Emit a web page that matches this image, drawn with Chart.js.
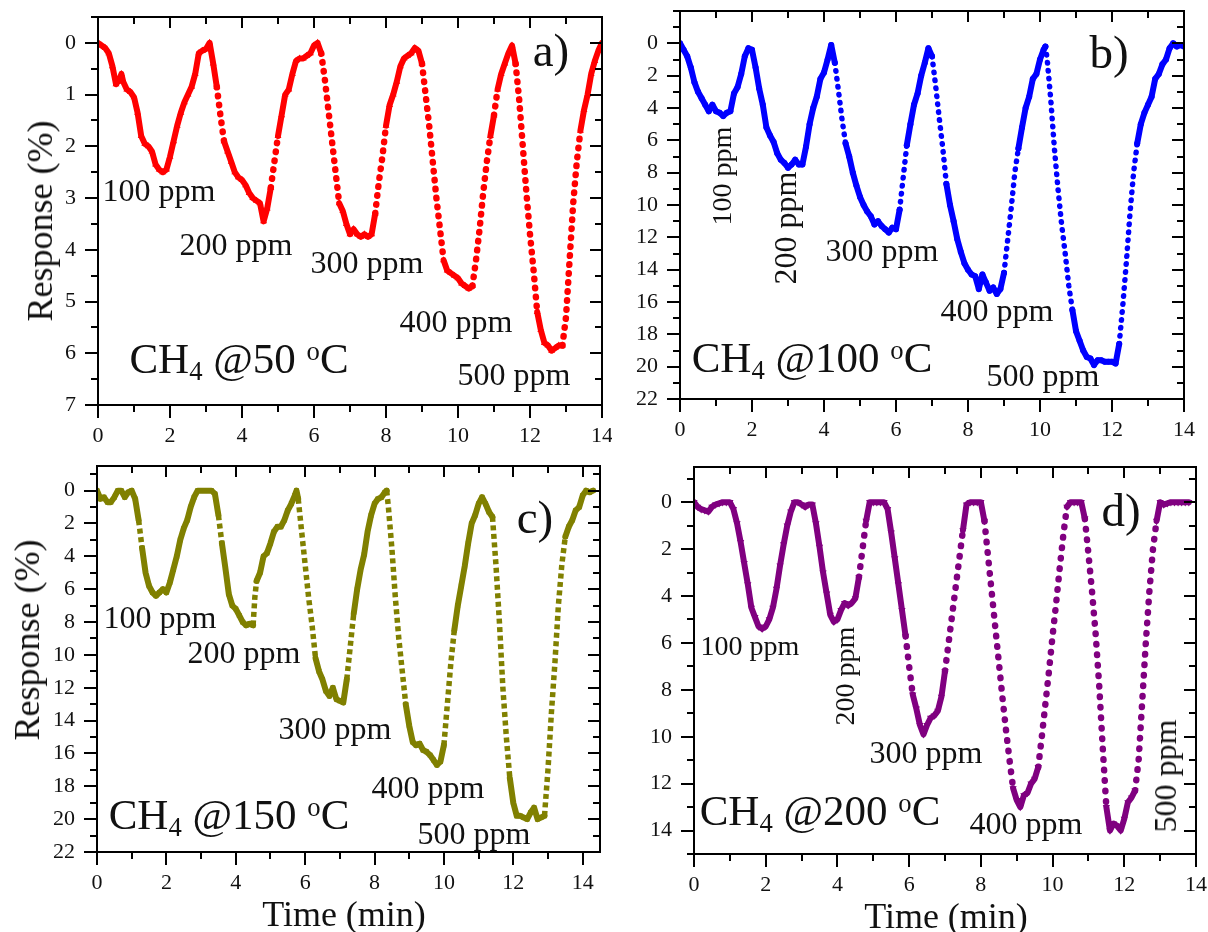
<!DOCTYPE html>
<html>
<head>
<meta charset="utf-8">
<script src="https://cdn.jsdelivr.net/npm/chart.js@4.4.1/dist/chart.umd.min.js"></script>
<style>
  html, body { margin: 0; padding: 0; background: #fff; }
  #fig { position: relative; width: 1208px; height: 932px; overflow: hidden;
         font-family: 'Liberation Serif', 'Times New Roman', serif; color: #111; }
  #fig canvas { position: absolute; }
  .txt { position: absolute; white-space: nowrap; line-height: 1; transform: translate(-50%, -50%); }
  .txt.rot { transform: translate(-50%, -50%) rotate(-90deg); }
  .txt sub, .txt sup { font-size: .62em; position: relative; vertical-align: baseline; }
  .txt sub { top: .28em; }
  .txt sup { top: -.5em; }
</style>
</head>
<body>
<div id="fig">
  <canvas id="panelA" width="612" height="458" style="left:0;top:0"></canvas>
  <canvas id="panelB" width="596" height="458" style="left:612px;top:0"></canvas>
  <canvas id="panelC" width="612" height="474" style="left:0;top:458px"></canvas>
  <canvas id="panelD" width="596" height="474" style="left:612px;top:458px"></canvas>
</div>
<script>
'use strict';

/* Response (%) vs time (min): [t, r] */
const respA = [
  [0,0],[0.1,0.05],[0.2,0.1],[0.3,0.2],[0.4,0.45],[0.5,0.8],[0.6,0.7],[0.65,0.6],[0.7,0.75],[0.8,0.9],
  [0.9,0.95],[1.0,1.05],[1.1,1.35],[1.2,1.8],[1.3,1.95],[1.4,2.0],[1.5,2.1],[1.6,2.35],[1.7,2.45],[1.8,2.5],
  [1.9,2.45],[2.0,2.2],[2.1,1.9],[2.2,1.6],[2.3,1.35],[2.4,1.15],[2.5,1.0],[2.6,0.85],[2.7,0.6],[2.8,0.2],
  [2.9,0.15],[3.0,0.12],[3.1,0.0],[3.2,0.4],[3.3,0.85],[3.4,1.4],[3.5,1.9],[3.6,2.1],[3.7,2.3],[3.8,2.5],
  [3.9,2.6],[4.0,2.65],[4.1,2.75],[4.2,2.9],[4.3,3.0],[4.4,3.05],[4.5,3.1],[4.6,3.45],[4.7,3.2],[4.8,2.8],
  [4.9,2.3],[5.0,1.8],[5.1,1.4],[5.2,1.0],[5.3,0.9],[5.4,0.6],[5.5,0.35],[5.6,0.3],[5.7,0.3],[5.8,0.25],
  [5.9,0.2],[6.0,0.05],[6.1,0.0],[6.2,0.2],[6.3,0.7],[6.4,1.3],[6.5,1.9],[6.6,2.5],[6.7,3.1],[6.8,3.25],
  [6.9,3.5],[7.0,3.7],[7.1,3.6],[7.2,3.7],[7.3,3.75],[7.4,3.7],[7.5,3.75],[7.6,3.7],[7.7,3.3],[7.8,2.7],
  [7.9,2.2],[8.0,1.6],[8.1,1.2],[8.2,1.0],[8.3,0.75],[8.4,0.45],[8.5,0.3],[8.6,0.25],[8.7,0.2],[8.8,0.1],
  [8.9,0.15],[9.0,0.4],[9.1,1.0],[9.2,1.6],[9.3,2.3],[9.4,3.0],[9.5,3.6],[9.6,4.2],[9.7,4.4],[9.8,4.45],
  [9.9,4.5],[10.0,4.55],[10.1,4.65],[10.2,4.7],[10.3,4.75],[10.4,4.7],[10.5,4.2],[10.6,3.6],[10.7,2.9],[10.8,2.3],
  [10.9,1.8],[11.0,1.4],[11.1,0.9],[11.2,0.6],[11.3,0.4],[11.4,0.2],[11.5,0.05],[11.6,0.4],[11.7,1.1],[11.8,2.0],
  [11.9,2.9],[12.0,3.7],[12.1,4.4],[12.2,5.2],[12.3,5.55],[12.4,5.8],[12.5,5.85],[12.6,5.95],[12.7,5.9],[12.8,5.85],
  [12.9,5.85],[13.0,5.3],[13.1,4.2],[13.2,3.1],[13.3,2.3],[13.4,1.7],[13.5,1.3],[13.6,1.0],[13.7,0.6],[13.8,0.35],
  [13.9,0.15],[14.0,0.0]
];
const respB = [
  [0,0],[0.1,0.4],[0.2,0.8],[0.3,1.5],[0.4,2.4],[0.5,3.0],[0.6,3.4],[0.7,3.8],[0.8,4.2],[0.9,3.8],
  [1.0,4.2],[1.1,4.3],[1.2,4.5],[1.3,4.3],[1.4,4.2],[1.5,3.1],[1.6,2.7],[1.7,1.9],[1.8,0.8],[1.9,0.3],
  [2.0,0.4],[2.1,1.5],[2.2,2.8],[2.3,3.8],[2.4,5.2],[2.5,5.7],[2.6,6.1],[2.7,6.8],[2.8,7.2],[2.9,7.4],
  [3.0,7.7],[3.1,7.5],[3.2,7.2],[3.3,7.5],[3.4,7.5],[3.5,6.4],[3.6,5.0],[3.7,4.0],[3.8,3.3],[3.9,2.2],
  [4.0,1.8],[4.1,1.0],[4.2,0.1],[4.3,1.2],[4.4,2.9],[4.5,4.7],[4.6,6.2],[4.7,7.0],[4.8,8.0],[4.9,8.8],
  [5.0,9.5],[5.1,10.0],[5.2,10.4],[5.3,10.7],[5.4,11.2],[5.5,11.0],[5.6,11.3],[5.7,11.5],[5.8,11.7],[5.9,11.4],
  [6.0,11.5],[6.1,10.3],[6.2,8.3],[6.3,6.3],[6.4,5.0],[6.5,3.8],[6.6,3.1],[6.7,2.0],[6.8,1.2],[6.9,0.3],
  [7.0,0.8],[7.1,2.6],[7.2,4.6],[7.3,6.5],[7.4,8.7],[7.5,10.0],[7.6,11.0],[7.7,12.1],[7.8,12.9],[7.9,13.6],
  [8.0,14.0],[8.1,14.3],[8.2,14.4],[8.3,15.2],[8.4,14.3],[8.5,14.8],[8.6,15.3],[8.7,15.1],[8.8,15.5],[8.9,15.2],
  [9.0,14.2],[9.1,12.2],[9.2,10.2],[9.3,8.0],[9.4,6.5],[9.5,5.2],[9.6,4.0],[9.7,3.3],[9.8,2.2],[9.9,1.9],
  [10.0,1.0],[10.1,0.4],[10.15,0.2],[10.2,1.0],[10.3,3.5],[10.4,6.5],[10.5,9.0],[10.6,11.2],[10.7,13.0],[10.8,15.0],
  [10.9,16.5],[11.0,17.8],[11.1,18.4],[11.2,19.0],[11.3,19.4],[11.4,19.5],[11.5,19.9],[11.6,19.6],[11.7,19.6],[11.8,19.7],
  [11.9,19.7],[12.0,19.7],[12.1,19.8],[12.2,18.6],[12.3,16.2],[12.4,13.5],[12.5,10.5],[12.6,8.0],[12.7,6.2],[12.8,5.0],
  [12.9,4.3],[13.0,3.8],[13.1,3.3],[13.2,2.2],[13.3,1.9],[13.4,1.3],[13.5,1.0],[13.6,0.3],[13.7,0.0],[13.8,0.2],
  [13.9,0.1],[14.0,0.2]
];
const respC = [
  [0,0.0],[0.1,0.5],[0.2,0.4],[0.3,0.7],[0.4,0.7],[0.5,0.4],[0.6,0.0],[0.7,0.0],[0.8,0.4],[0.9,0.1],
  [1.0,0.0],[1.1,0.5],[1.2,1.8],[1.3,3.5],[1.4,5.0],[1.5,5.8],[1.6,6.2],[1.7,6.4],[1.8,6.2],[1.9,6.0],
  [2.0,6.2],[2.1,5.6],[2.2,4.8],[2.3,4.0],[2.4,3.0],[2.5,2.3],[2.6,1.8],[2.7,1.0],[2.8,0.4],[2.9,0.0],
  [3.0,0.0],[3.1,0.0],[3.2,0.0],[3.3,0.0],[3.4,0.2],[3.5,1.5],[3.6,3.2],[3.7,4.7],[3.8,6.3],[3.9,7.0],
  [4.0,7.2],[4.1,7.6],[4.2,8.0],[4.3,8.2],[4.4,8.1],[4.5,8.2],[4.55,6.5],[4.6,5.5],[4.7,5.0],[4.8,4.0],
  [4.9,3.8],[5.0,3.2],[5.1,2.5],[5.2,2.2],[5.3,2.2],[5.4,1.8],[5.5,1.2],[5.6,0.8],[5.7,0.3],[5.75,0.0],
  [5.8,0.5],[5.9,2.5],[6.0,4.5],[6.1,6.5],[6.2,8.2],[6.3,10.2],[6.4,11.0],[6.5,11.5],[6.6,12.2],[6.7,12.5],
  [6.8,12.0],[6.9,12.7],[7.0,12.8],[7.1,12.9],[7.2,11.5],[7.3,9.5],[7.4,7.5],[7.5,6.0],[7.6,4.8],[7.7,3.9],
  [7.8,2.5],[7.9,1.5],[8.0,0.8],[8.1,0.5],[8.2,0.4],[8.3,0.1],[8.35,0.0],[8.4,1.0],[8.5,3.5],[8.6,6.5],
  [8.7,9.0],[8.8,11.0],[8.9,13.0],[9.0,14.3],[9.1,15.3],[9.2,15.5],[9.3,15.4],[9.4,15.8],[9.5,15.9],[9.6,16.1],
  [9.7,16.4],[9.8,16.7],[9.9,16.5],[10.0,15.5],[10.1,13.0],[10.2,10.5],[10.3,8.5],[10.4,7.0],[10.5,5.8],[10.6,4.6],
  [10.7,3.2],[10.8,2.0],[10.9,1.5],[11.0,0.8],[11.1,0.4],[11.2,0.8],[11.3,1.3],[11.4,1.6],[11.5,4.5],[11.6,8.0],
  [11.7,12.0],[11.8,15.0],[11.9,17.5],[12.0,19.0],[12.1,19.8],[12.2,19.8],[12.3,19.9],[12.4,20.0],[12.5,19.6],[12.6,19.3],
  [12.7,20.0],[12.8,19.9],[12.9,19.8],[13.0,17.0],[13.1,13.5],[13.2,10.5],[13.3,7.0],[13.4,4.5],[13.5,2.8],[13.6,2.2],
  [13.7,1.8],[13.8,1.2],[13.9,1.0],[14.0,0.3],[14.1,0.0],[14.2,0.1],[14.3,0.0]
];
const respD = [
  [0,0.0],[0.1,0.2],[0.2,0.3],[0.3,0.35],[0.4,0.4],[0.5,0.2],[0.6,0.1],[0.7,0.05],[0.8,0.0],[0.9,0.0],
  [1.0,0.0],[1.1,0.3],[1.2,0.9],[1.3,1.7],[1.4,2.6],[1.5,3.5],[1.6,4.5],[1.7,4.9],[1.8,5.3],[1.9,5.4],
  [2.0,5.3],[2.1,5.0],[2.2,4.5],[2.3,3.7],[2.4,2.7],[2.5,1.8],[2.6,1.0],[2.7,0.4],[2.8,0.0],[2.9,0.0],
  [3.0,0.1],[3.1,0.2],[3.2,0.1],[3.3,0.1],[3.4,0.9],[3.5,1.9],[3.6,3.0],[3.7,3.9],[3.8,4.8],[3.9,5.1],
  [4.0,5.0],[4.1,4.6],[4.2,4.3],[4.3,4.4],[4.4,4.3],[4.5,4.1],[4.6,3.2],[4.7,2.0],[4.8,0.8],[4.9,0.0],
  [5.0,0.0],[5.1,0.0],[5.2,0.0],[5.3,0.0],[5.4,0.3],[5.5,1.3],[5.6,2.4],[5.7,3.5],[5.8,4.6],[5.9,5.7],
  [6.0,7.0],[6.1,8.2],[6.2,8.8],[6.3,9.5],[6.4,9.9],[6.5,9.5],[6.6,9.2],[6.7,9.1],[6.8,8.9],[6.9,8.3],
  [7.0,7.2],[7.1,6.0],[7.2,4.8],[7.3,3.6],[7.4,2.4],[7.5,1.2],[7.6,0.1],[7.7,0.0],[7.8,0.0],[7.9,0.0],
  [8.0,0.0],[8.1,0.8],[8.2,2.3],[8.3,3.8],[8.4,5.3],[8.5,6.8],[8.6,8.3],[8.7,9.7],[8.8,11.0],[8.9,12.2],
  [9.0,12.7],[9.1,13.0],[9.2,12.5],[9.3,12.4],[9.4,12.0],[9.5,11.8],[9.6,11.3],[9.7,10.0],[9.8,8.6],[9.9,7.2],
  [10.0,5.7],[10.1,4.3],[10.2,2.8],[10.3,1.4],[10.4,0.2],[10.5,0.0],[10.6,0.0],[10.7,0.0],[10.8,0.0],[10.9,0.7],
  [11.0,2.2],[11.1,3.8],[11.2,5.6],[11.3,7.8],[11.4,10.5],[11.5,13.0],[11.6,14.0],[11.7,13.7],[11.8,13.8],[11.9,14.0],
  [12.0,13.5],[12.1,12.8],[12.2,12.6],[12.3,12.3],[12.4,11.0],[12.5,8.5],[12.6,6.0],[12.7,3.8],[12.8,2.0],[12.9,0.8],
  [13.0,0.0],[13.1,0.1],[13.2,0.05],[13.3,0.0],[13.4,0.0],[13.5,0.0],[13.6,0.0],[13.7,0.0],[13.8,0.0]
];

/* Tick values */
const xTicks  = [0, 2, 4, 6, 8, 10, 12, 14];
const yTicksA = [0, 1, 2, 3, 4, 5, 6, 7];
const yTicksB = [0, 2, 4, 6, 8, 10, 12, 14, 16, 18, 20, 22];
const yTicksC = [0, 2, 4, 6, 8, 10, 12, 14, 16, 18, 20, 22];
const yTicksD = [0, 2, 4, 6, 8, 10, 12, 14];

/* Texts */
const concLabels = ['100 ppm', '200 ppm', '300 ppm', '400 ppm', '500 ppm'];
const temps      = ['50', '100', '150', '200'];
const tags       = ['a)', 'b)', 'c)', 'd)'];
const xTitle     = 'Time (min)';
const yTitle     = 'Response (%)';

const SERIF = "'Liberation Serif', 'Times New Roman', serif";

/* Panel setup; "steep*" styles where markers spread apart on fast transients */
const PANELS = [
  { id: 'panelA', data: respA, color: '#ff0000', style: 'triangle', rot: 0, r: 4,
    steepW: 6.5, steepDash: [0.5, 8.5], steepCap: 'round',
    x: [0, 14], y: [-0.5, 7], yTicks: yTicksA, xMinor: 1, yMinor: 0.5,
    pad: { left: 0, top: 17, right: 10, bottom: 0 }, yW: 98, xH: 53, steep: 6.5 },
  { id: 'panelB', data: respB, color: '#0000ff', style: 'circle', rot: 0, r: 3,
    steepW: 5.5, steepDash: [0.5, 7.5], steepCap: 'round',
    x: [0, 14], y: [-2, 22], yTicks: yTicksB, xMinor: 1, yMinor: 1,
    pad: { left: 0, top: 11, right: 24, bottom: 0 }, yW: 68, xH: 59, steep: 6.5 },
  { id: 'panelC', data: respC, color: '#808000', style: 'rect', rot: 0, r: 3.4,
    steepW: 5.5, steepDash: [5, 3.5], steepCap: 'butt',
    x: [0, 14.5], y: [-1.5, 22], yTicks: yTicksC, xMinor: 1, yMinor: 1,
    pad: { left: 0, top: 8, right: 12, bottom: 0 }, yW: 97, xH: 80, steep: 8 },
  { id: 'panelD', data: respD, color: '#800080', style: 'triangle', rot: 180, r: 4.2,
    steepW: 6.5, steepDash: [0.5, 10], steepCap: 'round',
    x: [0, 14], y: [-1.5, 15], yTicks: yTicksD, xMinor: 1, yMinor: 1,
    pad: { left: 0, top: 9, right: 12, bottom: 0 }, yW: 82, xH: 78, steep: 7.5 },
];

/* Text positions on the page (centre x, centre y, font px) */
const NOTES = [
  { text: concLabels[0], x: 159, y: 190, s: 32 },
  { text: concLabels[1], x: 236, y: 244, s: 32 },
  { text: concLabels[2], x: 367, y: 262, s: 32 },
  { text: concLabels[3], x: 456, y: 321, s: 32 },
  { text: concLabels[4], x: 514, y: 374, s: 32 },
  { html: `CH<sub>4</sub> @${temps[0]} <sup>o</sup>C`, x: 239, y: 358, s: 43 },
  { text: tags[0], x: 551, y: 50, s: 47 },
  { text: yTitle, x: 40, y: 221, s: 36, rot: true },

  { text: concLabels[0], x: 722, y: 176, s: 28, rot: true },
  { text: concLabels[1], x: 785, y: 228, s: 32, rot: true },
  { text: concLabels[2], x: 882, y: 250, s: 32 },
  { text: concLabels[3], x: 997, y: 310, s: 32 },
  { text: concLabels[4], x: 1043, y: 375, s: 32 },
  { html: `CH<sub>4</sub> @${temps[1]} <sup>o</sup>C`, x: 812, y: 357, s: 43 },
  { text: tags[1], x: 1109, y: 52, s: 47 },

  { text: concLabels[0], x: 160, y: 617, s: 32 },
  { text: concLabels[1], x: 244, y: 652, s: 32 },
  { text: concLabels[2], x: 335, y: 728, s: 32 },
  { text: concLabels[3], x: 428, y: 787, s: 32 },
  { text: concLabels[4], x: 474, y: 833, s: 32 },
  { html: `CH<sub>4</sub> @${temps[2]} <sup>o</sup>C`, x: 229, y: 814, s: 43 },
  { text: tags[2], x: 535, y: 517, s: 47 },
  { text: yTitle, x: 27, y: 640, s: 36, rot: true },
  { text: xTitle, x: 344, y: 914, s: 36 },

  { text: concLabels[0], x: 750, y: 646, s: 28 },
  { text: concLabels[1], x: 845, y: 676, s: 28, rot: true },
  { text: concLabels[2], x: 926, y: 752, s: 32 },
  { text: concLabels[3], x: 1026, y: 823, s: 32 },
  { text: concLabels[4], x: 1165, y: 776, s: 32, rot: true },
  { html: `CH<sub>4</sub> @${temps[3]} <sup>o</sup>C`, x: 820, y: 810, s: 43 },
  { text: tags[3], x: 1121, y: 510, s: 47 },
  { text: xTitle, x: 946, y: 916, s: 36 },
];

/* Pixel slope between two points */
function slopeOf(p0, p1) {
  return Math.abs(p1.y - p0.y) / Math.max(Math.abs(p1.x - p0.x), 0.01);
}

/* Markers are left out where the trace runs steeply (the dotted stroke shows it there) */
function pointSize(ctx, P) {
  if (ctx.type !== 'data') return P.r;
  const { x, y } = ctx.chart.scales;
  if (!x || !y) return P.r;
  const d = ctx.dataset.data, i = ctx.dataIndex;
  const px = v => ({ x: x.getPixelForValue(v.x), y: y.getPixelForValue(v.y) });
  const here = px(d[i]);
  const before = i > 0 ? slopeOf(px(d[i - 1]), here) : 0;
  const after  = i < d.length - 1 ? slopeOf(here, px(d[i + 1])) : 0;
  return (before > P.steep && after > P.steep) ? 0 : P.r;
}

/* Box frame with ticks: out on left/bottom, in on top/right */
const frameTicks = {
  id: 'frameTicks',
  afterDraw(chart, _args, o) {
    const { ctx, chartArea: a, scales: { x, y } } = chart;
    const isMajor = (s, v) => s.ticks.some(t => Math.abs(t.value - v) < 1e-6);
    ctx.save();
    ctx.strokeStyle = '#000';
    ctx.lineWidth = 2;
    ctx.beginPath();
    for (let k = Math.ceil(x.min / o.xMinor - 1e-6); k * o.xMinor <= x.max + 1e-6; k++) {
      const v = k * o.xMinor;
      const p = Math.round(x.getPixelForValue(v));
      const big = isMajor(x, v);
      ctx.moveTo(p, a.bottom); ctx.lineTo(p, a.bottom + (big ? 13 : 7));
      ctx.moveTo(p, a.top);    ctx.lineTo(p, a.top + (big ? 11 : 7));
    }
    for (let k = Math.ceil(y.min / o.yMinor - 1e-6); k * o.yMinor <= y.max + 1e-6; k++) {
      const v = k * o.yMinor;
      const p = Math.round(y.getPixelForValue(v));
      const big = isMajor(y, v);
      ctx.moveTo(a.left, p);  ctx.lineTo(a.left - (big ? 13 : 7), p);
      ctx.moveTo(a.right, p); ctx.lineTo(a.right - (big ? 12 : 7), p);
    }
    ctx.stroke();
    ctx.strokeRect(a.left, a.top, a.right - a.left, a.bottom - a.top);
    ctx.restore();
  },
};

function buildPanel(P) {
  const tickFont = { family: SERIF, size: 22 };
  const isSteep = ctx => slopeOf(ctx.p0, ctx.p1) > P.steep;
  return new Chart(document.getElementById(P.id), {
    type: 'line',
    data: {
      datasets: [{
        data: P.data.map(([t, r]) => ({ x: t, y: r })),
        borderColor: P.color,
        backgroundColor: P.color,
        borderWidth: 6,
        borderCapStyle: 'round',
        borderJoinStyle: 'round',
        tension: 0,
        pointStyle: P.style,
        pointRotation: P.rot,
        pointRadius: ctx => pointSize(ctx, P),
        pointBorderWidth: 0,
        pointBackgroundColor: P.color,
        segment: {
          borderDash: ctx => (isSteep(ctx) ? P.steepDash : undefined),
          borderWidth: ctx => (isSteep(ctx) ? P.steepW : undefined),
          borderCapStyle: ctx => (isSteep(ctx) ? P.steepCap : undefined),
        },
      }],
    },
    options: {
      responsive: false,
      animation: false,
      devicePixelRatio: 1,
      layout: { padding: P.pad, autoPadding: false },
      events: [],
      plugins: {
        legend: { display: false },
        tooltip: { enabled: false },
        frameTicks: { xMinor: P.xMinor, yMinor: P.yMinor },
      },
      scales: {
        x: {
          type: 'linear', min: P.x[0], max: P.x[1],
          afterBuildTicks: s => { s.ticks = xTicks.map(v => ({ value: v })); },
          afterFit: s => { s.height = P.xH; s.paddingLeft = 0; s.paddingRight = 0; },
          grid: { display: false, drawTicks: false },
          border: { display: false },
          ticks: { font: tickFont, color: '#111', padding: 18, maxRotation: 0, autoSkip: false },
        },
        y: {
          type: 'linear', reverse: true, min: P.y[0], max: P.y[1],
          afterBuildTicks: s => { s.ticks = P.yTicks.map(v => ({ value: v })); },
          afterFit: s => { s.width = P.yW; s.paddingTop = 0; s.paddingBottom = 0; },
          grid: { display: false, drawTicks: false },
          border: { display: false },
          ticks: { font: tickFont, color: '#111', padding: 22, autoSkip: false },
        },
      },
    },
    plugins: [frameTicks],
  });
}

PANELS.forEach(buildPanel);

/* Annotations */
const fig = document.getElementById('fig');
NOTES.forEach(n => {
  const el = document.createElement('div');
  el.className = 'txt' + (n.rot ? ' rot' : '');
  el.style.left = n.x + 'px';
  el.style.top = n.y + 'px';
  el.style.fontSize = n.s + 'px';
  if (n.html) el.innerHTML = n.html; else el.textContent = n.text;
  fig.appendChild(el);
});
</script>
</body>
</html>
